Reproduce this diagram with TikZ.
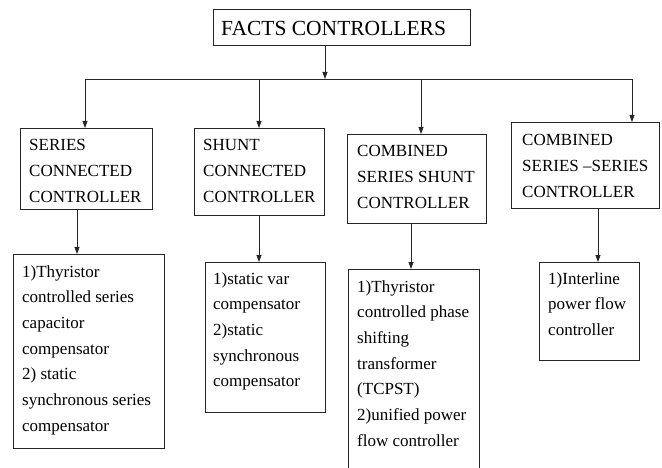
\documentclass[tikz,border=0pt]{standalone}
\usepackage{fontspec}
\setmainfont{Liberation Serif}
\usetikzlibrary{arrows.meta}
\begin{document}
\begin{tikzpicture}[x=1pt,y=-1pt,
 box/.style={draw=black!85, line width=0.8pt, rectangle, inner sep=0pt, anchor=north west},
 txt/.style={anchor=base west, inner sep=0pt, align=left, font=\fontsize{17}{25.7}\selectfont},
 ttl/.style={anchor=base west, inner sep=0pt, font=\fontsize{21.5}{26}\selectfont},
 arr/.style={draw=black!85, line width=0.8pt, -{Triangle[length=7pt,width=5pt]}},
 ln/.style={draw=black!85, line width=0.8pt}]
\useasboundingbox (0,0) rectangle (662,468);
\clip (0,0) rectangle (662,468);
% title
\node[box, minimum width=257pt, minimum height=36pt] (top) at (213,9) {};
\node[ttl] (toptxt) at (221,36) {FACTS CONTROLLERS};
% junctions
\coordinate (j0) at (325,79);
\coordinate (j1) at (85,79);
\coordinate (j2) at (259,79);
\coordinate (j3) at (421,79);
\coordinate (j4) at (632,79);
% category boxes (text anchored at the baseline of its last line)
\node[box, minimum width=132pt, minimum height=81pt] (s1) at (20,128) {};
\node[txt] (s1t) at (29,202.4) {SERIES\\CONNECTED\\CONTROLLER};
\node[box, minimum width=130pt, minimum height=87pt] (s2) at (194,128) {};
\node[txt] (s2t) at (203,202.4) {SHUNT\\CONNECTED\\CONTROLLER};
\node[box, minimum width=139pt, minimum height=89pt] (s3) at (347,134) {};
\node[txt] (s3t) at (357,208.4) {COMBINED\\SERIES SHUNT\\CONTROLLER};
\node[box, minimum width=148pt, minimum height=86pt] (s4) at (511,122) {};
\node[txt] (s4t) at (522,197) {COMBINED\\SERIES --SERIES\\CONTROLLER};
% list boxes
\node[box, minimum width=151pt, minimum height=194pt] (l1) at (13,254) {};
\node[txt] (l1t) at (22,431.2) {1)Thyristor\\controlled series\\capacitor\\compensator\\2) static\\synchronous series\\compensator};
\node[box, minimum width=120pt, minimum height=150pt] (l2) at (205,262) {};
\node[txt] (l2t) at (213,386.8) {1)static var\\compensator\\2)static\\synchronous\\compensator};
\node[box, minimum width=131pt, minimum height=230pt] (l3) at (348,269) {};
\node[txt] (l3t) at (357,446.2) {1)Thyristor\\controlled phase\\shifting\\transformer\\(TCPST)\\2)unified power\\flow controller};
\node[box, minimum width=100pt, minimum height=98pt] (l4) at (539,262) {};
\node[txt] (l4t) at (548,335.4) {1)Interline\\power flow\\controller};
% connectors
\draw[arr] (top.south -| j0) -- (j0);
\draw[ln] (j1) -- (j4);
\draw[arr] (j1) -- (j1 |- s1.north);
\draw[arr] (j2) -- (j2 |- s2.north);
\draw[arr] (j3) -- (j3 |- s3.north);
\draw[arr] (j4) -- (j4 |- s4.north);
\draw[arr] ([xshift=57pt]s1.south west) -- ([xshift=57pt]s1.south west |- l1.north);
\draw[arr] ([xshift=65pt]s2.south west) -- ([xshift=65pt]s2.south west |- l2.north);
\draw[arr] ([xshift=64pt]s3.south west) -- ([xshift=64pt]s3.south west |- l3.north);
\draw[arr] ([xshift=87pt]s4.south west) -- ([xshift=87pt]s4.south west |- l4.north);
\end{tikzpicture}
\end{document}
